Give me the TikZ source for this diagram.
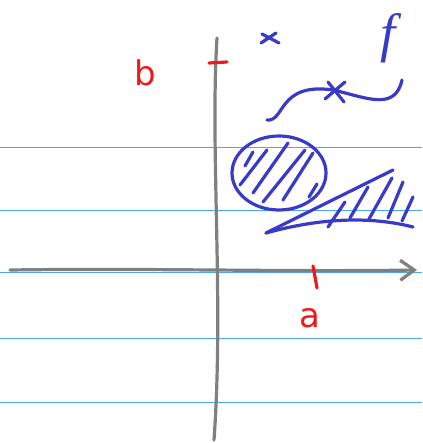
\documentclass[tikz,border=0pt]{standalone}
\usepackage{fontspec}
\setsansfont{DejaVu Sans}
\newfontfamily\scriptf{Liberation Serif}
\usetikzlibrary{arrows.meta}

\definecolor{rule}{HTML}{4AA8F0}
\definecolor{pen}{HTML}{3A3AC8}
\definecolor{redpen}{HTML}{EE1A1A}
\definecolor{axisgray}{HTML}{808080}

\begin{document}
\begin{tikzpicture}[
  x=1pt, y=-1pt,
  ruled/.style={rule, line width=0.8pt},
  axis/.style={axisgray, line width=3.2pt, line cap=round},
  tick/.style={redpen, line width=3.2pt, line cap=round},
  ink/.style={pen, line width=3.2pt, line cap=round, line join=round},
  lbl/.style={redpen, font=\sffamily\fontsize{34}{36}\selectfont, inner sep=0pt}
]
\useasboundingbox (0,0) rectangle (422,443);

% ruled paper
\foreach \y in {147,210,272,338,402}
  \draw[ruled] (0,\y) -- (422,\y);

% axes
\coordinate (xl) at (10,270);
\coordinate (xr) at (417,270);
\coordinate (yt) at (217,38);
\coordinate (yb) at (214,440);
\draw[axis, -{Straight Barb[length=14pt, width=20pt]}] (xl) .. controls (150,268) and (280,272) .. (xr);
\draw[axis] (yt) .. controls (210,150) and (224,300) .. (yb);

% ticks and labels
\coordinate (bt1) at (209,63);
\coordinate (bt2) at (227,62);
\draw[tick] (bt1) -- (bt2);
\coordinate (at1) at (313,266);
\coordinate (at2) at (317,288);
\draw[tick] (at1) -- (at2);
\node[lbl] (b) at (145,73) {b};
\node[lbl] (a) at (310,318) {a};

% small cross
\draw[ink] (261,43) -- (276,33);
\draw[ink] (262,34) -- (279,43);

% curve f with its cross
\node[pen, font=\scriptf\itshape\fontsize{54}{56}\selectfont, inner sep=0pt] (f) at (388,38) {f};
\coordinate (c0) at (267,120);
\coordinate (c1) at (333,90);
\coordinate (c2) at (402,80);
\draw[ink] (c0) .. controls (285,122) and (278,82) .. (c1)
           .. controls (365,97) and (395,112) .. (c2);
\draw[ink] (325,99) -- (345,82);
\draw[ink] (328,82) -- (344,102);

% hatched disc
\draw[ink] (279,173) ellipse [x radius=47, y radius=37];
\draw[ink] (253,152) -- (245,166);
\draw[ink] (267,150) -- (240,185);
\draw[ink] (288,143) -- (253,193);
\draw[ink] (305,150) -- (263,202);
\draw[ink] (313,153) -- (283,200);
\draw[ink] (317,184) -- (309,197);

% hatched wedge
\coordinate (w0) at (266,233);
\coordinate (w1) at (413,227);
\coordinate (w2) at (393,170);
\draw[ink] (w0) .. controls (320,218) and (370,216) .. (w1);
\draw[ink] (w0) -- (w2);
\draw[ink] (345,202) -- (328,227);
\draw[ink] (368,187) -- (350,218);
\draw[ink] (392,178) -- (369,219);
\draw[ink] (403,182) -- (388,218);
\draw[ink] (413,197) -- (402,221);
\end{tikzpicture}
\end{document}
